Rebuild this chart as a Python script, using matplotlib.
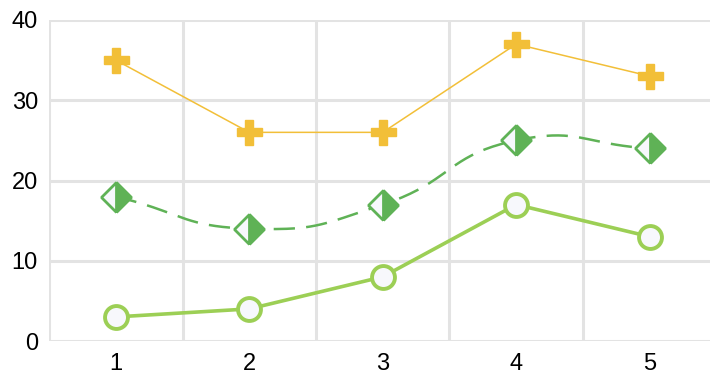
import numpy as np
import matplotlib.pyplot as plt
from matplotlib.markers import MarkerStyle

plt.rcParams['font.family'] = ['Liberation Sans', 'DejaVu Sans']

categories = ['1', '2', '3', '4', '5']
plus_vals = [35, 26, 26, 37, 33]
diamond_vals = [18, 14, 17, 25, 24]
circle_vals = [3, 4, 8, 17, 13]

yellow = '#f2bf38'
green = '#5fb256'
light_green = '#9ccf55'
fill = '#f7f8fc'
grid = '#e3e3e3'

fig = plt.figure(figsize=(7.1, 3.75), dpi=100)
ax = fig.add_axes([49 / 710, 34 / 375, 667.5 / 710, 321 / 375])
x = np.arange(len(categories))
ax.set_xlim(-0.5, 4.5)
ax.set_ylim(0, 40)


def smooth_curve(ax, xs, ys, smooth=0.5, steps=40):
    # cubic bezier through the points, control points from neighbours (pixel space)
    pts = ax.transData.transform(np.column_stack([xs, ys]))
    n = len(pts)
    cps = []
    for i in range(n):
        p = pts[i]
        prev = pts[i - 1] if i > 0 else p
        nxt = pts[i + 1] if i < n - 1 else p
        v = (nxt - prev) * smooth
        d0 = np.hypot(*(p - prev))
        d1 = np.hypot(*(p - nxt))
        s = d0 + d1
        if s:
            d0, d1 = d0 / s, d1 / s
        cps.append((p - v * d0, p + v * d1))
    t = np.linspace(0, 1, steps)[:, None]
    segs = []
    for i in range(n - 1):
        p0, c1, c2, p3 = pts[i], cps[i][1], cps[i + 1][0], pts[i + 1]
        b = ((1 - t) ** 3) * p0 + 3 * ((1 - t) ** 2) * t * c1 \
            + 3 * (1 - t) * t ** 2 * c2 + t ** 3 * p3
        segs.append(b if i == 0 else b[1:])
    return ax.transData.inverted().transform(np.vstack(segs))


for b in np.arange(-0.5, 4.5, 1):
    ax.axvline(b, color=grid, lw=2.2, zorder=0)
for v in range(0, 41, 10):
    ax.axhline(v, color=grid, lw=2.2, zorder=0)

ax.plot(x, plus_vals, color=yellow, lw=1.1, marker='P', ms=18, mfc=yellow, mec=yellow,
        zorder=3, clip_on=False)

curve = smooth_curve(ax, x, diamond_vals)
ax.plot(curve[:, 0], curve[:, 1], color=green, lw=1.8, ls=(0, (8.5, 4.5)), zorder=3)
half_diamond = MarkerStyle('D', fillstyle='right', joinstyle='bevel')
ax.plot(x, diamond_vals, ls='none', marker=half_diamond, ms=15, mew=2, mec=green,
        mfc=green, markerfacecoloralt=fill, zorder=4, clip_on=False)

ax.plot(x, circle_vals, color=light_green, lw=2.6, marker='o', ms=16.5, mew=2.8,
        mec=light_green, mfc=fill, zorder=5, clip_on=False)

ax.set_xticks(x)
ax.set_xticklabels(categories)
ax.set_yticks(range(0, 41, 10))
ax.tick_params(length=0, labelsize=17, colors='black')
ax.tick_params(axis='x', pad=9)
ax.tick_params(axis='y', pad=8)
for s in ax.spines.values():
    s.set_visible(False)

fig.savefig('out.png', dpi=100)
